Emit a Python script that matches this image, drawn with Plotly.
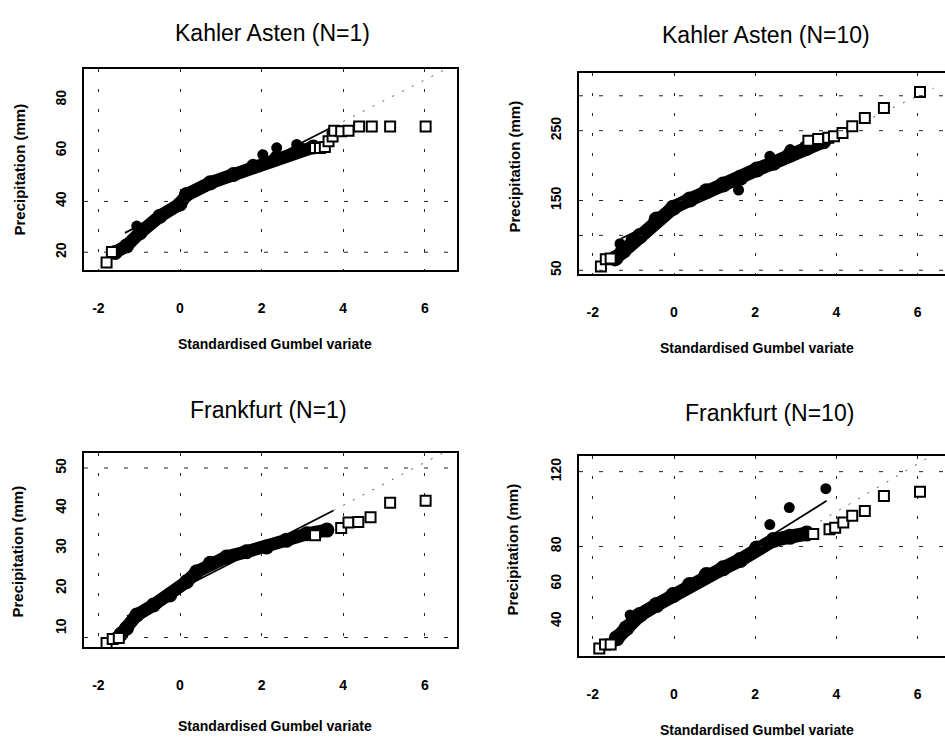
import plotly.graph_objects as go

W, H = 945, 740

# ---------------- data ----------------
# Kahler Asten (N=1)
ka1_band_x = [-1.59, -1.31, -0.98, -0.49, 0.0, 0.16, 0.74, 1.31, 1.80, 2.37, 2.94, 3.27]
ka1_band_y = [19.9, 22.5, 27.7, 34.2, 39.0, 42.7, 47.3, 50.6, 53.8, 57.1, 60.4, 61.4]
ka1_dot_x = [-1.06, 2.03, 2.37, 2.86]
ka1_dot_y = [30.3, 58.4, 61.1, 62.4]
ka1_sq_x = [-1.80, -1.67, 3.31, 3.43, 3.55, 3.64, 3.74, 3.78, 3.95, 4.13, 4.39, 4.70, 5.15, 6.02]
ka1_sq_y = [16.0, 20.1, 61.0, 61.0, 61.4, 63.7, 65.6, 67.8, 67.6, 67.8, 69.5, 69.5, 69.5, 69.5]
ka1_fit_x = [-1.35, 3.76]
ka1_fit_y = [27.6, 69.5]
ka1_ext_x = [3.76, 6.53]
ka1_ext_y = [69.5, 92.2]
ka1_ref_y = [20, 40]
ka1_yticks = [20, 40, 60, 80]

# Kahler Asten (N=10)
ka10_band_x = [-1.45, -1.25, -1.0, -0.84, -0.43, -0.02, 0.39, 0.80, 1.21, 1.63, 2.04, 2.45, 2.86, 3.27, 3.68]
ka10_band_y = [67.0, 78.0, 92.0, 99.0, 122.9, 139.6, 151.4, 163.3, 172.9, 182.4, 194.3, 203.9, 215.7, 225.3, 234.8]
ka10_dot_x = [-1.33, 1.59, 2.36, 2.86]
ka10_dot_y = [88.0, 165.0, 213.3, 222.9]
ka10_sq_x = [-1.80, -1.68, -1.56, 3.31, 3.55, 3.80, 3.94, 4.15, 4.39, 4.70, 5.17, 6.06]
ka10_sq_y = [55.3, 65.7, 66.7, 235.7, 238.1, 240.0, 241.9, 246.7, 256.2, 268.1, 282.4, 305.3]
ka10_fit_x = [-1.3, 3.8]
ka10_fit_y = [95.5, 238.3]
ka10_ext_x = [3.93, 6.40]
ka10_ext_y = [241.9, 311.0]
ka10_ref_y = [50, 100, 150, 250, 300]
ka10_yticks = [50, 150, 250]

# Frankfurt (N=1)
fr1_band_x = [-1.45, -1.31, -1.06, -0.65, -0.25, 0.16, 0.41, 0.74, 1.14, 1.63, 2.12, 2.61, 3.11, 3.60]
fr1_band_y = [8.5, 10.0, 13.3, 15.8, 18.3, 21.6, 24.1, 26.2, 27.8, 29.1, 30.3, 32.0, 33.6, 34.5]
fr1_dot_x = []
fr1_dot_y = []
fr1_sq_x = [-1.80, -1.65, -1.50, 3.31, 3.95, 4.13, 4.37, 4.67, 5.15, 6.02]
fr1_sq_y = [6.3, 7.3, 7.6, 33.2, 35.0, 36.4, 36.5, 37.7, 41.3, 41.8]
fr1_fit_x = [-1.3, 3.76]
fr1_fit_y = [13.0, 39.4]
fr1_ext_x = [3.76, 6.45]
fr1_ext_y = [39.4, 53.8]
fr1_ref_y = [7.7, 50]
fr1_yticks = [10, 20, 30, 40, 50]

# Frankfurt (N=10)
fr10_band_x = [-1.41, -1.17, -0.84, -0.43, -0.02, 0.39, 0.80, 1.21, 1.63, 2.04, 2.45, 2.86, 3.27]
fr10_band_y = [30.9, 36.3, 43.4, 48.7, 54.0, 59.4, 64.7, 68.3, 72.7, 78.9, 83.4, 85.2, 86.9]
fr10_dot_x = [-1.08, 2.36, 2.84, 3.74]
fr10_dot_y = [43.4, 91.7, 100.8, 110.9]
fr10_sq_x = [-1.84, -1.70, -1.56, 3.43, 3.83, 3.97, 4.17, 4.39, 4.70, 5.17, 6.06]
fr10_sq_y = [25.4, 27.5, 27.5, 86.6, 89.2, 90.0, 92.8, 96.4, 99.0, 107.0, 109.2]
fr10_fit_x = [-1.4, 3.76]
fr10_fit_y = [34.3, 104.4]
fr10_ext_x = [3.60, 6.30]
fr10_ext_y = [93.5, 128.0]
fr10_ref_y = [80, 120]
fr10_yticks = [40, 60, 80, 120]

x_ticks = [-2, 0, 2, 4, 6]
titles = ["Kahler Asten (N=1)", "Kahler Asten (N=10)", "Frankfurt (N=1)", "Frankfurt (N=10)"]
x_title = "Standardised Gumbel variate"
y_title = "Precipitation (mm)"

# ---------------- layout geometry (pixels) ----------------
panels = [
    dict(box=(84, 457, 69, 271), xr=[-2.353, 6.789], yr=[12.9, 92.2], right=True, bw=13,
         band=(ka1_band_x, ka1_band_y), dot=(ka1_dot_x, ka1_dot_y), sq=(ka1_sq_x, ka1_sq_y),
         fit=(ka1_fit_x, ka1_fit_y), ext=(ka1_ext_x, ka1_ext_y), ref=ka1_ref_y, yt=ka1_yticks,
         tpos=(272, 33), xtpos=(275, 345), ytpos=(20, 170)),
    dict(box=(579, 945, 73, 275), xr=[-2.340, 6.675], yr=[44.3, 332.9], right=False, bw=14,
         band=(ka10_band_x, ka10_band_y), dot=(ka10_dot_x, ka10_dot_y), sq=(ka10_sq_x, ka10_sq_y),
         fit=(ka10_fit_x, ka10_fit_y), ext=(ka10_ext_x, ka10_ext_y), ref=ka10_ref_y, yt=ka10_yticks,
         tpos=(766, 35), xtpos=(757, 349), ytpos=(515, 167)),
    dict(box=(84, 457, 454, 649), xr=[-2.353, 6.789], yr=[5.27, 53.8], right=True, bw=13,
         band=(fr1_band_x, fr1_band_y), dot=(fr1_dot_x, fr1_dot_y), sq=(fr1_sq_x, fr1_sq_y),
         fit=(fr1_fit_x, fr1_fit_y), ext=(fr1_ext_x, fr1_ext_y), ref=fr1_ref_y, yt=fr1_yticks,
         tpos=(268, 411), xtpos=(275, 728), ytpos=(18, 553)),
    dict(box=(579, 945, 457, 658), xr=[-2.340, 6.675], yr=[21.3, 128.5], right=False, bw=14,
         band=(fr10_band_x, fr10_band_y), dot=(fr10_dot_x, fr10_dot_y), sq=(fr10_sq_x, fr10_sq_y),
         fit=(fr10_fit_x, fr10_fit_y), ext=(fr10_ext_x, fr10_ext_y), ref=fr10_ref_y, yt=fr10_yticks,
         tpos=(769, 414), xtpos=(757, 732), ytpos=(513, 551)),
]

FONT = "Liberation Sans, Arial, sans-serif"
TFONT = "Liberation Sans, Arial, sans-serif"

fig = go.Figure()
layout = dict(width=W, height=H, margin=dict(l=0, r=0, t=0, b=0),
              paper_bgcolor="white", plot_bgcolor="white", showlegend=False,
              shapes=[], annotations=[])

for i, p in enumerate(panels):
    n = "" if i == 0 else str(i + 1)
    xa, ya = "x" + n, "y" + n
    x0, x1, yt0, yb0 = p["box"]
    layout["xaxis" + n] = dict(
        domain=[x0 / W, x1 / W], range=p["xr"], anchor=ya,
        tickvals=x_ticks, ticktext=[str(v) for v in x_ticks],
        showline=True, linecolor="black", linewidth=1.5, mirror=True,
        showgrid=True, gridcolor="#222", gridwidth=1, griddash="3px,17px",
        zeroline=False, ticks="", ticklabelstandoff=24,
        tickfont=dict(family=FONT, size=14, color="black", weight="bold"))
    layout["yaxis" + n] = dict(
        domain=[1 - yb0 / H, 1 - yt0 / H], range=p["yr"], anchor=xa,
        tickvals=p["yt"], ticktext=[str(v) for v in p["yt"]], tickangle=-90,
        showline=True, linecolor="black", linewidth=1.5, mirror=p["right"],
        showgrid=False, zeroline=False, ticks="", ticklabelstandoff=11,
        tickfont=dict(family=FONT, size=14, color="black", weight="bold"))
    for yv in p["ref"]:
        layout["shapes"].append(dict(type="line", xref=xa + " domain", yref=ya,
                                     x0=0, x1=1, y0=yv, y1=yv,
                                     line=dict(color="#222", width=1, dash="4px,16px")))
    # fit extension (dotted)
    fig.add_trace(go.Scatter(x=p["ext"][0], y=p["ext"][1], mode="lines", xaxis=xa, yaxis=ya,
                             line=dict(color="#555", width=1, dash="2px,9px"), hoverinfo="skip"))
    # fitted line
    fig.add_trace(go.Scatter(x=p["fit"][0], y=p["fit"][1], mode="lines", xaxis=xa, yaxis=ya,
                             line=dict(color="black", width=1.8), hoverinfo="skip"))
    # dense band of observations
    fig.add_trace(go.Scatter(x=p["band"][0], y=p["band"][1], mode="lines+markers", xaxis=xa, yaxis=ya,
                             line=dict(color="black", width=p["bw"]),
                             marker=dict(symbol="circle", size=p["bw"] + 2, color="black")))
    # isolated filled points
    fig.add_trace(go.Scatter(x=p["dot"][0], y=p["dot"][1], mode="markers", xaxis=xa, yaxis=ya,
                             marker=dict(symbol="circle", size=11, color="black")))
    # open squares (extremes)
    fig.add_trace(go.Scatter(x=p["sq"][0], y=p["sq"][1], mode="markers", xaxis=xa, yaxis=ya,
                             marker=dict(symbol="square", size=10, color="white",
                                         line=dict(color="black", width=2))))
    # texts
    tx, ty = p["tpos"]
    layout["annotations"].append(dict(text=titles[i], xref="paper", yref="paper",
                                      x=tx / W, y=1 - ty / H, showarrow=False,
                                      xanchor="center", yanchor="middle",
                                      font=dict(family=TFONT, size=23, color="black")))
    ax_, ay_ = p["xtpos"]
    layout["annotations"].append(dict(text=x_title, xref="paper", yref="paper",
                                      x=ax_ / W, y=1 - ay_ / H, showarrow=False,
                                      xanchor="center", yanchor="middle",
                                      font=dict(family=FONT, size=14, color="black", weight="bold")))
    bx, by = p["ytpos"]
    layout["annotations"].append(dict(text=y_title, xref="paper", yref="paper",
                                      x=bx / W, y=1 - by / H, showarrow=False, textangle=-90,
                                      xanchor="center", yanchor="middle",
                                      font=dict(family=FONT, size=15, color="black", weight="bold")))

fig.update_layout(**layout)
fig.write_html("out.html")
